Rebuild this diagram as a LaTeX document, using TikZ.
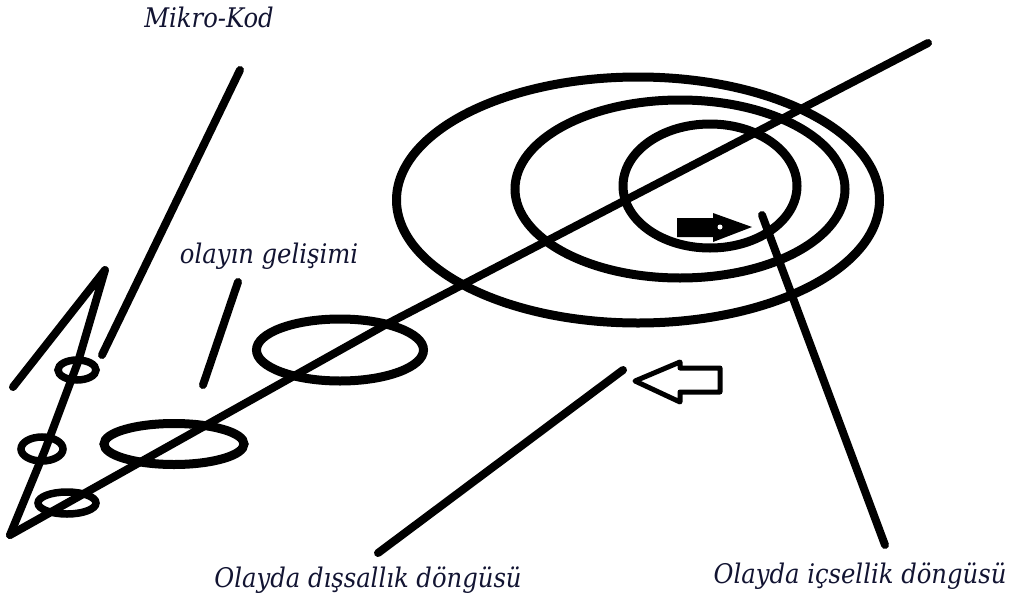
\documentclass[tikz,border=0pt]{standalone}
\usepackage{fontspec}
\newfontfamily\lblfont{DejaVu Serif Condensed}
\usetikzlibrary{shapes.geometric}
\definecolor{labelcol}{RGB}{18,20,50}
\begin{document}
\begin{tikzpicture}[x=1pt,y=-1pt,
  stroke/.style={line width=8pt,line cap=round,line join=round},
  ring/.style={draw,ellipse,line width=9pt,inner sep=0pt,outer sep=0pt},
  smallring/.style={draw,ellipse,line width=7.5pt,inner sep=0pt,outer sep=0pt},
  lbl/.style={font=\lblfont\itshape\fontsize{27}{30}\selectfont,text=labelcol,inner sep=0pt,anchor=base}]
\useasboundingbox[fill=white] (0,0) rectangle (1010,600);

% main diagonal line
\coordinate (tip) at (10,535);
\coordinate (bend) at (385,325);
\coordinate (far) at (928,43);
\draw[stroke] (tip) -- (bend) -- (far);

% lambda shaped stroke at left
\coordinate (lamA) at (13,387);
\coordinate (peak) at (105,270);
\coordinate (lamB) at (78,362);
\coordinate (lamC) at (45,450);
\draw[stroke] (lamA) -- (peak) -- (lamB) -- (lamC) -- (tip);

% small rings on the left
\node[smallring,minimum width=38pt,minimum height=20pt] (sa) at (77,370) {};
\node[smallring,minimum width=42pt,minimum height=24pt] (sb) at (42,449) {};
\node[smallring,minimum width=58pt,minimum height=22pt] (sc) at (67,503) {};

% rings along the line
\node[ring,minimum width=140pt,minimum height=41pt] (e1) at (174,444) {};
\node[ring,minimum width=167pt,minimum height=62pt] (e2) at (340,350) {};

% concentric rings
\node[ring,minimum width=483pt,minimum height=246pt] (outer) at (638,200) {};
\node[ring,minimum width=330pt,minimum height=178pt] (middle) at (680,189) {};
\node[ring,minimum width=174pt,minimum height=124pt] (inner) at (710,186) {};

% pointer lines
\coordinate (mkA) at (240,70);
\coordinate (mkB) at (102,355);
\draw[stroke] (mkA) -- (mkB);
\coordinate (ogA) at (238,282);
\coordinate (ogB) at (203,385);
\draw[stroke] (ogA) -- (ogB);
\coordinate (dsA) at (623,370);
\coordinate (dsB) at (378,553);
\draw[stroke] (dsA) -- (dsB);
\coordinate (icA) at (762,215);
\coordinate (icB) at (885,545);
\draw[stroke] (icA) -- (icB);

% filled arrow inside the inner ring
\fill (677,218) -- (713,218) -- (713,213) -- (752,227) -- (713,242) -- (713,237) -- (677,237) -- cycle;
\fill[white] (720,227) circle (2.5);

% hollow arrow pointing left
\draw[line width=5pt,line join=round] (635,381) -- (680,362) -- (680,368) -- (720,368) -- (720,392) -- (680,392) -- (680,402) -- cycle;

% labels
\node[lbl] (mikro) at (209,27) {Mikro-Kod};
\node[lbl] (gelisim) at (269,263) {olayın gelişimi};
\node[lbl] (dissal) at (368,587) {Olayda dışsallık döngüsü};
\node[lbl] (icsel) at (860,583) {Olayda içsellik döngüsü};
\end{tikzpicture}
\end{document}
